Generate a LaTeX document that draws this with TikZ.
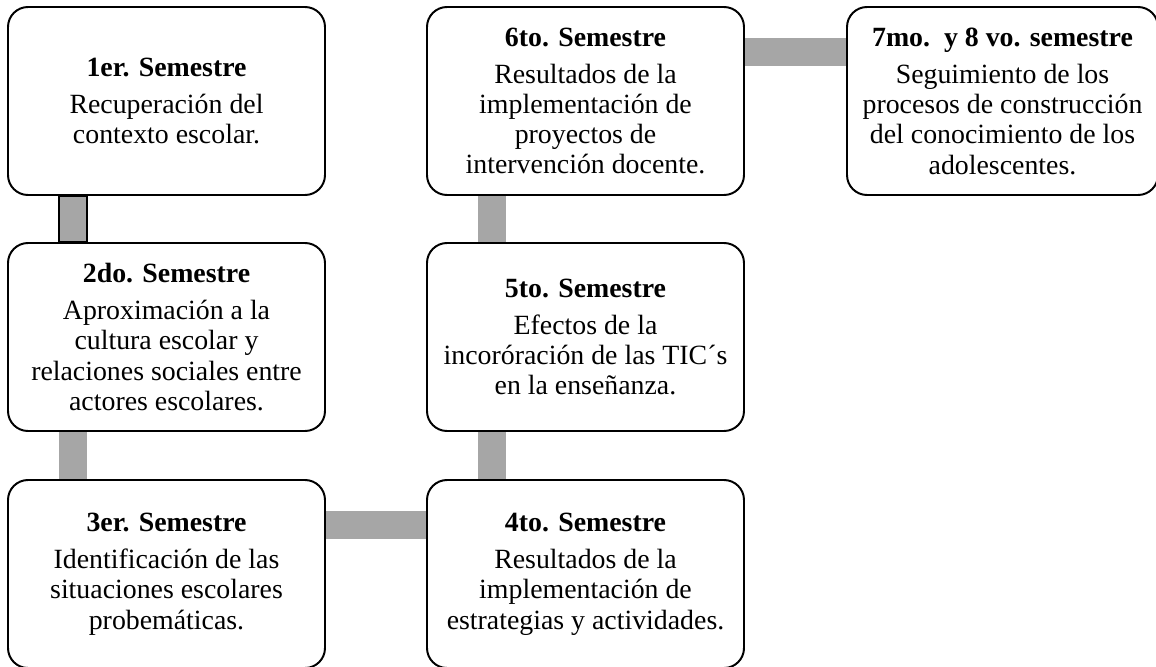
\documentclass[tikz,border=0pt]{standalone}
\usepackage{fontspec}
\setmainfont{Liberation Serif}
\pgfdeclarelayer{background}
\pgfsetlayers{background,main}
\definecolor{bargray}{RGB}{166,166,166}
\def\vconnect{s2/s3, s5/s4, s6/s5}
\def\hconnect{s3/s4, s6/s7}
\tikzstyle{semester}=[draw, line width=1.4pt, rounded corners=0.5cm, fill=white, align=center, minimum width=7.925cm, minimum height=4.7cm, inner sep=0pt, font=\fontsize{19.8}{21.5}\selectfont]
\tikzstyle{bar} = [draw, line width=0.7cm, bargray, line cap=butt]
\tikzstyle{framed bar} = [fill=bargray, draw=black, line width=1pt]

\begin{document}
\begin{tikzpicture}
  \useasboundingbox (0,0) rectangle (28.9,-16.65);

  % Left column
  \node[semester] (s1) at (4.1625,-2.525) {\textbf{1er. Semestre}\\[5pt]Recuperación del\\contexto escolar.};
  \node[semester] (s2) at (4.1625,-8.425) {\textbf{2do. Semestre}\\[5pt]Aproximación a la\\cultura escolar y\\relaciones sociales entre\\actores escolares.};
  \node[semester] (s3) at (4.1625,-14.35) {\textbf{3er. Semestre}\\[5pt]Identificación de las\\situaciones escolares\\probemáticas.};

  % Middle column
  \node[semester] (s4) at (14.6375,-14.35) {\textbf{4to. Semestre}\\[5pt]Resultados de la\\implementación de\\estrategias y actividades.};
  \node[semester] (s5) at (14.6375,-8.425) {\textbf{5to. Semestre}\\[5pt]Efectos de la\\incoróración de las TIC´s\\en la enseñanza.};
  \node[semester] (s6) at (14.6375,-2.525) {\textbf{6to. Semestre}\\[5pt]Resultados de la\\implementación de\\proyectos de\\intervención docente.};

  % Last one
  \node[semester, minimum width=7.775cm] (s7) at (25.0625,-2.525) {\textbf{7mo.\ \ y 8 vo. semestre}\\[5pt]Seguimiento de los\\procesos de construcción\\del conocimiento de los\\adolescentes.};

  \begin{pgfonlayer}{background}
    \path[framed bar] ([xshift=1.3cm]s1.south west) rectangle ([xshift=2cm]s2.north west);
    \foreach \source/\dest in \vconnect
      \path[bar] ([xshift=1.65cm]\source.south west) -- ([xshift=1.65cm]\dest.north west);
    \foreach \source/\dest in \hconnect
      \path[bar] ([yshift=-1.15cm]\source.north east) -- ([yshift=-1.15cm]\dest.north west);
  \end{pgfonlayer}
\end{tikzpicture}
\end{document}
